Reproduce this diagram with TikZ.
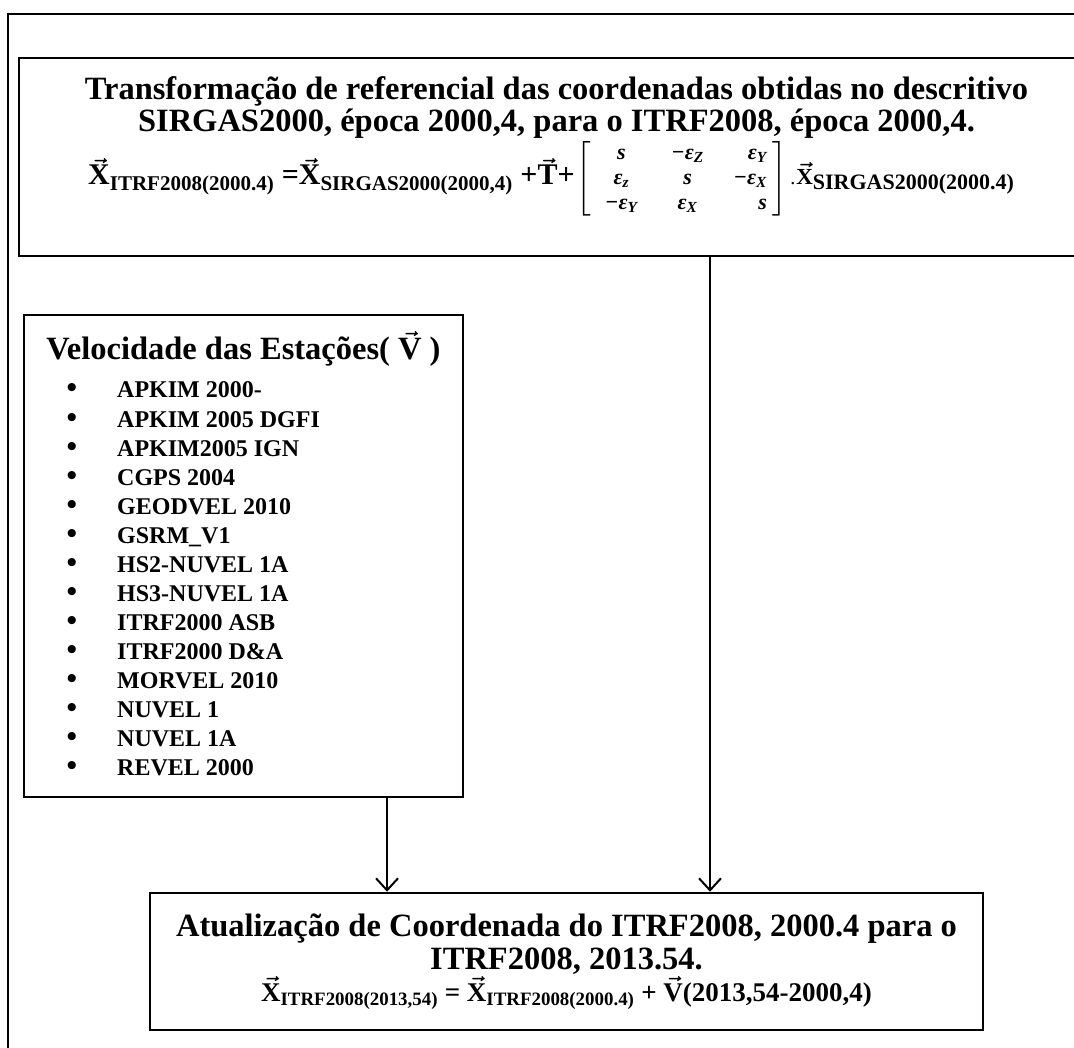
\documentclass[tikz,border=0pt]{standalone}
\usepackage{amsmath}
\usepackage{fontspec}
\setmainfont{Liberation Serif}
\usetikzlibrary{arrows.meta,positioning}

\newcommand{\vx}[1]{\vec{\mbox{#1}}}
\newcommand{\lbl}[1]{_{\text{#1}}}
\newcommand{\epsi}[1]{ε\textsubscript{#1}}

\begin{document}
\begin{tikzpicture}[x=1pt,y=-1pt,
  framebox/.style={rectangle, draw, line width=2.5pt, inner sep=0pt},
  titletext/.style={font=\fontsize{32.5}{33}\selectfont\bfseries\boldmath, anchor=base, inner sep=0pt},
  eqtext/.style={font=\fontsize{30}{34}\selectfont\bfseries\boldmath, inner sep=0pt},
  itemtext/.style={font=\fontsize{24}{28}\selectfont\bfseries, anchor=base west, inner sep=0pt},
  arr/.style={-{Straight Barb[length=12pt,width=22pt,line width=2pt]}, line width=2pt}
]
  \useasboundingbox (0,0) rectangle (1074,1048);
  \clip (0,0) rectangle (1074,1048);
  \draw[line width=2.5pt] (8,14) rectangle (1100,1080);

  % top box: change of reference frame
  \node[framebox, minimum width=1077pt, minimum height=198pt] (trans) at (557.5,157) {};
  \node[titletext] (transtitle) at (556.5,100)
    {Transformação de referencial das coordenadas obtidas no descritivo};
  \node[titletext] (transtitle2) at (556.5,132)
    {SIRGAS2000, época 2000,4, para o ITRF2008, época 2000,4.};
  \node[eqtext, anchor=base west] (transeq) at (88,185)
    {$\vx{X}\lbl{ITRF2008(2000.4)}$ =$\vx{X}\lbl{SIRGAS2000(2000,4)}$ +$\vx{T}$+\hspace{2pt}$\left[\mbox{\fontsize{22}{25}\selectfont\bfseries\itshape
        \begin{tabular}{@{\hspace{14pt}}c@{\hspace{34pt}}c@{\hspace{30pt}}r@{\hspace{6pt}}}
          s & −\epsi{Z} & \epsi{Y}\\
          \epsi{z} & s & −\epsi{X}\\
          −\epsi{Y} & \epsi{X} & s
        \end{tabular}}\right]$\hspace{3pt}{\fontsize{20}{22}\selectfont\mdseries.}\hspace{1pt}{\fontsize{23}{26}\selectfont$\vx{X}$\raisebox{-5pt}{\fontsize{22}{24}\selectfont SIRGAS2000(2000.4)}}};

  % station velocities
  \node[framebox, minimum width=439pt, minimum height=482pt] (vel) at (243.5,556) {};
  \node[titletext] (veltitle) at (243.5,360) {Velocidade das Estações( $\vx{V}$ )};
  \foreach \model [count=\i] in {APKIM 2000-, APKIM 2005 DGFI, APKIM2005 IGN, CGPS 2004,
      GEODVEL 2010, GSRM\_V1, HS2-NUVEL 1A, HS3-NUVEL 1A, ITRF2000 ASB, ITRF2000 D\&A,
      MORVEL 2010, NUVEL 1, NUVEL 1A, REVEL 2000} {
    \node[font=\fontsize{30}{30}\selectfont\bfseries, anchor=base, inner sep=0pt] (bul\i) at (72,{398+29.05*(\i-1)}) {\textbullet};
    \node[itemtext] (mod\i) at (117,{398+29.05*(\i-1)}) {\model};
  }

  % bottom box: coordinate update
  \node[framebox, minimum width=833pt, minimum height=137pt] (atual) at (566.5,961.5) {};
  \node[titletext] (atualtitle) at (566.5,936)
    {Atualização de Coordenada do ITRF2008, 2000.4 para o};
  \node[titletext] (atualtitle2) at (566.5,969) {ITRF2008, 2013.54.};
  \node[eqtext, font=\fontsize{27}{30}\selectfont\bfseries\boldmath, anchor=base] (atualeq) at (566.5,1001)
    {$\vx{X}\lbl{ITRF2008(2013,54)}$ = $\vx{X}\lbl{ITRF2008(2000.4)}$ + $\vx{V}$(2013,54-2000,4)};

  \coordinate (velx) at (387,0);
  \coordinate (transx) at (710,0);
  \draw[arr] (vel.south -| velx) -- (velx |- atual.north);
  \draw[arr] (trans.south -| transx) -- (transx |- atual.north);
\end{tikzpicture}
\end{document}
